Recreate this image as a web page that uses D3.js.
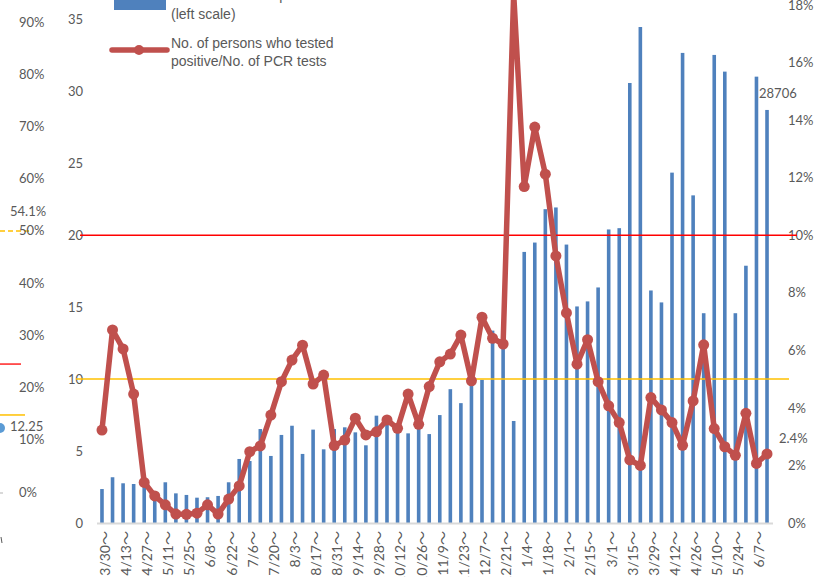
<!DOCTYPE html>
<html lang="en">
<head>
<meta charset="UTF-8">
<title>PCR tests and positivity</title>
<script src="https://cdn.jsdelivr.net/npm/d3@7/dist/d3.min.js"></script>
<style>
  body { margin: 0; background: #fff; overflow: hidden; }
  svg { display: block; }
  .tick-label { font-family: 'Lato', 'Liberation Sans', sans-serif; font-size: 13px; fill: #595959; }
  .x-label { font-family: 'Lato', 'Liberation Sans', 'Noto Sans CJK JP', sans-serif; font-size: 14px; fill: #595959; }
  .legend-text { font-family: 'Liberation Sans', Arial, sans-serif; font-size: 14px; fill: #595959; }
</style>
</head>
<body>
<div id="root"></div>
<script>
// weekly categories (week starting)
const weeks = ['3/30','4/6','4/13','4/20','4/27','5/4','5/11','5/18','5/25','6/1','6/8','6/15','6/22','6/29',
  '7/6','7/13','7/20','7/27','8/3','8/10','8/17','8/24','8/31','9/7','9/14','9/21','9/28','10/5','10/12','10/19',
  '10/26','11/2','11/9','11/16','11/23','11/30','12/7','12/14','12/21','12/28','1/4','1/11','1/18','1/25',
  '2/1','2/8','2/15','2/22','3/1','3/8','3/15','3/22','3/29','4/5','4/12','4/19','4/26','5/3','5/10','5/17',
  '5/24','5/31','6/7','6/14']

// PCR tests (thousands, left scale)
const tests = [2.36,3.18,2.76,2.71,2.55,2.1,2.83,2.06,1.95,1.76,1.79,1.88,2.83,4.45,4.31,6.53,
  4.66,6.12,6.76,4.80,6.49,5.12,6.53,6.65,6.30,5.40,7.46,7.2,6.8,6.23,7.1,6.18,
  7.5,9.30,8.33,9.9,9.95,13.37,13.0,7.09,18.84,19.49,21.81,21.93,19.35,15.05,15.40,16.37,
  20.40,20.49,30.58,34.47,16.16,15.33,24.35,32.67,22.77,14.58,32.53,31.37,14.58,17.88,31.02,28.706]

// positives / PCR tests (%, right scale)
const positivity = [3.23,6.71,6.05,4.48,1.41,0.94,0.63,0.31,0.30,0.34,0.63,0.31,0.83,1.29,2.48,2.68,
  3.75,4.91,5.66,6.18,4.83,5.14,2.69,2.88,3.64,3.06,3.17,3.58,3.29,4.48,3.43,4.74,
  5.6,5.87,6.53,4.94,7.15,6.42,6.22,18.4,11.69,13.76,12.12,9.28,7.30,5.52,6.37,4.91,
  4.07,3.49,2.19,2.0,4.36,3.93,3.49,2.70,4.24,6.19,3.28,2.65,2.35,3.81,2.07,2.4]

const leftTicks = [0, 5, 10, 15, 20, 25, 30, 35]
const rightTicks = [0, 2, 4, 6, 8, 10, 12, 14, 16, 18]
const refLines = [{ left: 20, color: '#FF0000' }, { left: 10, color: '#FFC000' }]

// fragments of the neighbouring panel on the far left
const sideTicks = [0, 10, 20, 30, 40, 50, 60, 70, 80, 90]
const sideDot = 12.25
const sideDashed = 50
const sideDashedLabel = 54.1
const sideRed = 24.5
const sideYellow = 14.75

const W = 822, H = 577
const svg = d3.select('#root').append('svg').attr('width', W).attr('height', H)

const x = d3.scalePoint().domain(weeks).range([96.7, 772.3]).padding(0.5)
const yL = d3.scaleLinear().domain([0, 36]).range([523, 5])
const yR = d3.scaleLinear().domain([0, 18]).range([523, 5])
const yS = d3.scaleLinear().domain([0, 90]).range([492, 22])

// side panel fragments
const side = svg.append('g')
side.append('line').attr('x1', 0).attr('x2', 3).attr('y1', yS(0) + 1).attr('y2', yS(0) + 1)
  .attr('stroke', '#d9d9d9').attr('stroke-width', 2)
side.append('line').attr('x1', 1).attr('x2', 2).attr('y1', 537).attr('y2', 543)
  .attr('stroke', '#595959').attr('stroke-width', 1)
side.append('line').attr('x1', 0).attr('x2', 31).attr('y1', yS(sideDashed)).attr('y2', yS(sideDashed))
  .attr('stroke', '#FFC000').attr('stroke-width', 1.5).attr('stroke-dasharray', '5,3')
side.append('line').attr('x1', 0).attr('x2', 21).attr('y1', yS(sideRed)).attr('y2', yS(sideRed))
  .attr('stroke', '#FF0000').attr('stroke-width', 1.3)
side.append('line').attr('x1', 0).attr('x2', 25).attr('y1', yS(sideYellow)).attr('y2', yS(sideYellow))
  .attr('stroke', '#FFC000').attr('stroke-width', 1.5)
side.append('circle').attr('cx', 0).attr('cy', yS(sideDot)).attr('r', 5).attr('fill', '#5B9BD5')
side.append('text').attr('class', 'tick-label').attr('x', 10).attr('y', yS(sideDot) - 2).attr('dy', '0.35em')
  .text(sideDot)
side.append('text').attr('class', 'tick-label').attr('x', 10).attr('y', yS(sideDashedLabel) + 2).attr('dy', '0.35em')
  .text(sideDashedLabel + '%')
side.selectAll('text.side-tick').data(sideTicks).enter().append('text')
  .attr('class', 'tick-label side-tick')
  .attr('x', 19).attr('y', d => yS(d)).attr('dy', '0.35em')
  .text(d => d + '%')

// left axis
const leftAxis = svg.append('g').attr('transform', 'translate(83,0)')
  .call(d3.axisLeft(yL).tickValues(leftTicks).tickSize(0).tickPadding(0))
leftAxis.select('.domain').remove()
leftAxis.selectAll('text').attr('class', 'tick-label').attr('fill', null)

// right axis
const rightAxis = svg.append('g').attr('transform', 'translate(788,0)')
  .call(d3.axisRight(yR).tickValues(rightTicks).tickSize(0).tickPadding(0).tickFormat(d => d + '%'))
rightAxis.select('.domain').remove()
rightAxis.selectAll('text').attr('class', 'tick-label').attr('fill', null)

// bars
svg.append('g').selectAll('rect').data(tests).enter().append('rect')
  .attr('x', (d, i) => x(weeks[i]) - 1.8)
  .attr('y', d => yL(d))
  .attr('width', 3.6)
  .attr('height', d => yL(0) - yL(d))
  .attr('fill', '#4F81BD')

// reference lines
svg.append('line').attr('x1', 80).attr('x2', 797).attr('y1', yL(refLines[0].left)).attr('y2', yL(refLines[0].left))
  .attr('stroke', refLines[0].color).attr('stroke-width', 1.5)
svg.append('line').attr('x1', 76).attr('x2', 789).attr('y1', yL(refLines[1].left)).attr('y2', yL(refLines[1].left))
  .attr('stroke', refLines[1].color).attr('stroke-width', 1.5)

// baseline
svg.append('line').attr('x1', 97).attr('x2', 773).attr('y1', 523.5).attr('y2', 523.5)
  .attr('stroke', '#d9d9d9').attr('stroke-width', 2)

// x labels, every other week
const xAxis = svg.append('g').attr('transform', 'translate(0,531)')
  .call(d3.axisBottom(x).tickValues(weeks.filter((d, i) => i % 2 === 0)).tickSize(0).tickPadding(0)
    .tickFormat(d => d + '～'))
xAxis.select('.domain').remove()
xAxis.selectAll('text')
  .attr('class', 'x-label')
  .attr('fill', null)
  .attr('text-anchor', 'end')
  .attr('transform', 'rotate(-90)')
  .attr('x', 0).attr('y', 0).attr('dx', 0).attr('dy', '0.35em')
xAxis.selectAll('.tick').attr('transform', d => `translate(${x(d) + 3},0)`)

// positivity line
const line = d3.line().x((d, i) => x(weeks[i])).y(d => yR(d))
svg.append('path').datum(positivity)
  .attr('d', line)
  .attr('fill', 'none')
  .attr('stroke', '#C0504D')
  .attr('stroke-width', 5.5)
  .attr('stroke-linejoin', 'round')
svg.append('g').selectAll('circle').data(positivity).enter().append('circle')
  .attr('cx', (d, i) => x(weeks[i]))
  .attr('cy', d => yR(d))
  .attr('r', 5.5)
  .attr('fill', '#C0504D')

// data labels for last week
const last = weeks.length - 1
svg.append('text').attr('class', 'tick-label').attr('x', x(weeks[last]) - 8).attr('y', yL(tests[last]) - 17)
  .attr('dy', '0.35em').text(Math.round(tests[last] * 1000))
svg.append('text').attr('class', 'tick-label').attr('x', x(weeks[last]) + 12).attr('y', yR(positivity[last]) - 15)
  .attr('dy', '0.35em').text(positivity[last] + '%')

// legend
const lg = svg.append('g')
lg.append('rect').attr('x', 114).attr('y', -4).attr('width', 52).attr('height', 14).attr('fill', '#4F81BD')
lg.append('text').attr('class', 'legend-text').attr('x', 171).attr('y', 0).text('No. of PCR tests performed')
lg.append('text').attr('class', 'legend-text').attr('x', 171).attr('y', 19).text('(left scale)')
lg.append('line').attr('x1', 112).attr('x2', 167).attr('y1', 50).attr('y2', 50)
  .attr('stroke', '#C0504D').attr('stroke-width', 5.5).attr('stroke-linecap', 'round')
lg.append('circle').attr('cx', 139).attr('cy', 50).attr('r', 5).attr('fill', '#C0504D')
lg.append('text').attr('class', 'legend-text').attr('x', 171).attr('y', 48).text('No. of persons who tested')
lg.append('text').attr('class', 'legend-text').attr('x', 171).attr('y', 66).text('positive/No. of PCR tests')
</script>
</body>
</html>
